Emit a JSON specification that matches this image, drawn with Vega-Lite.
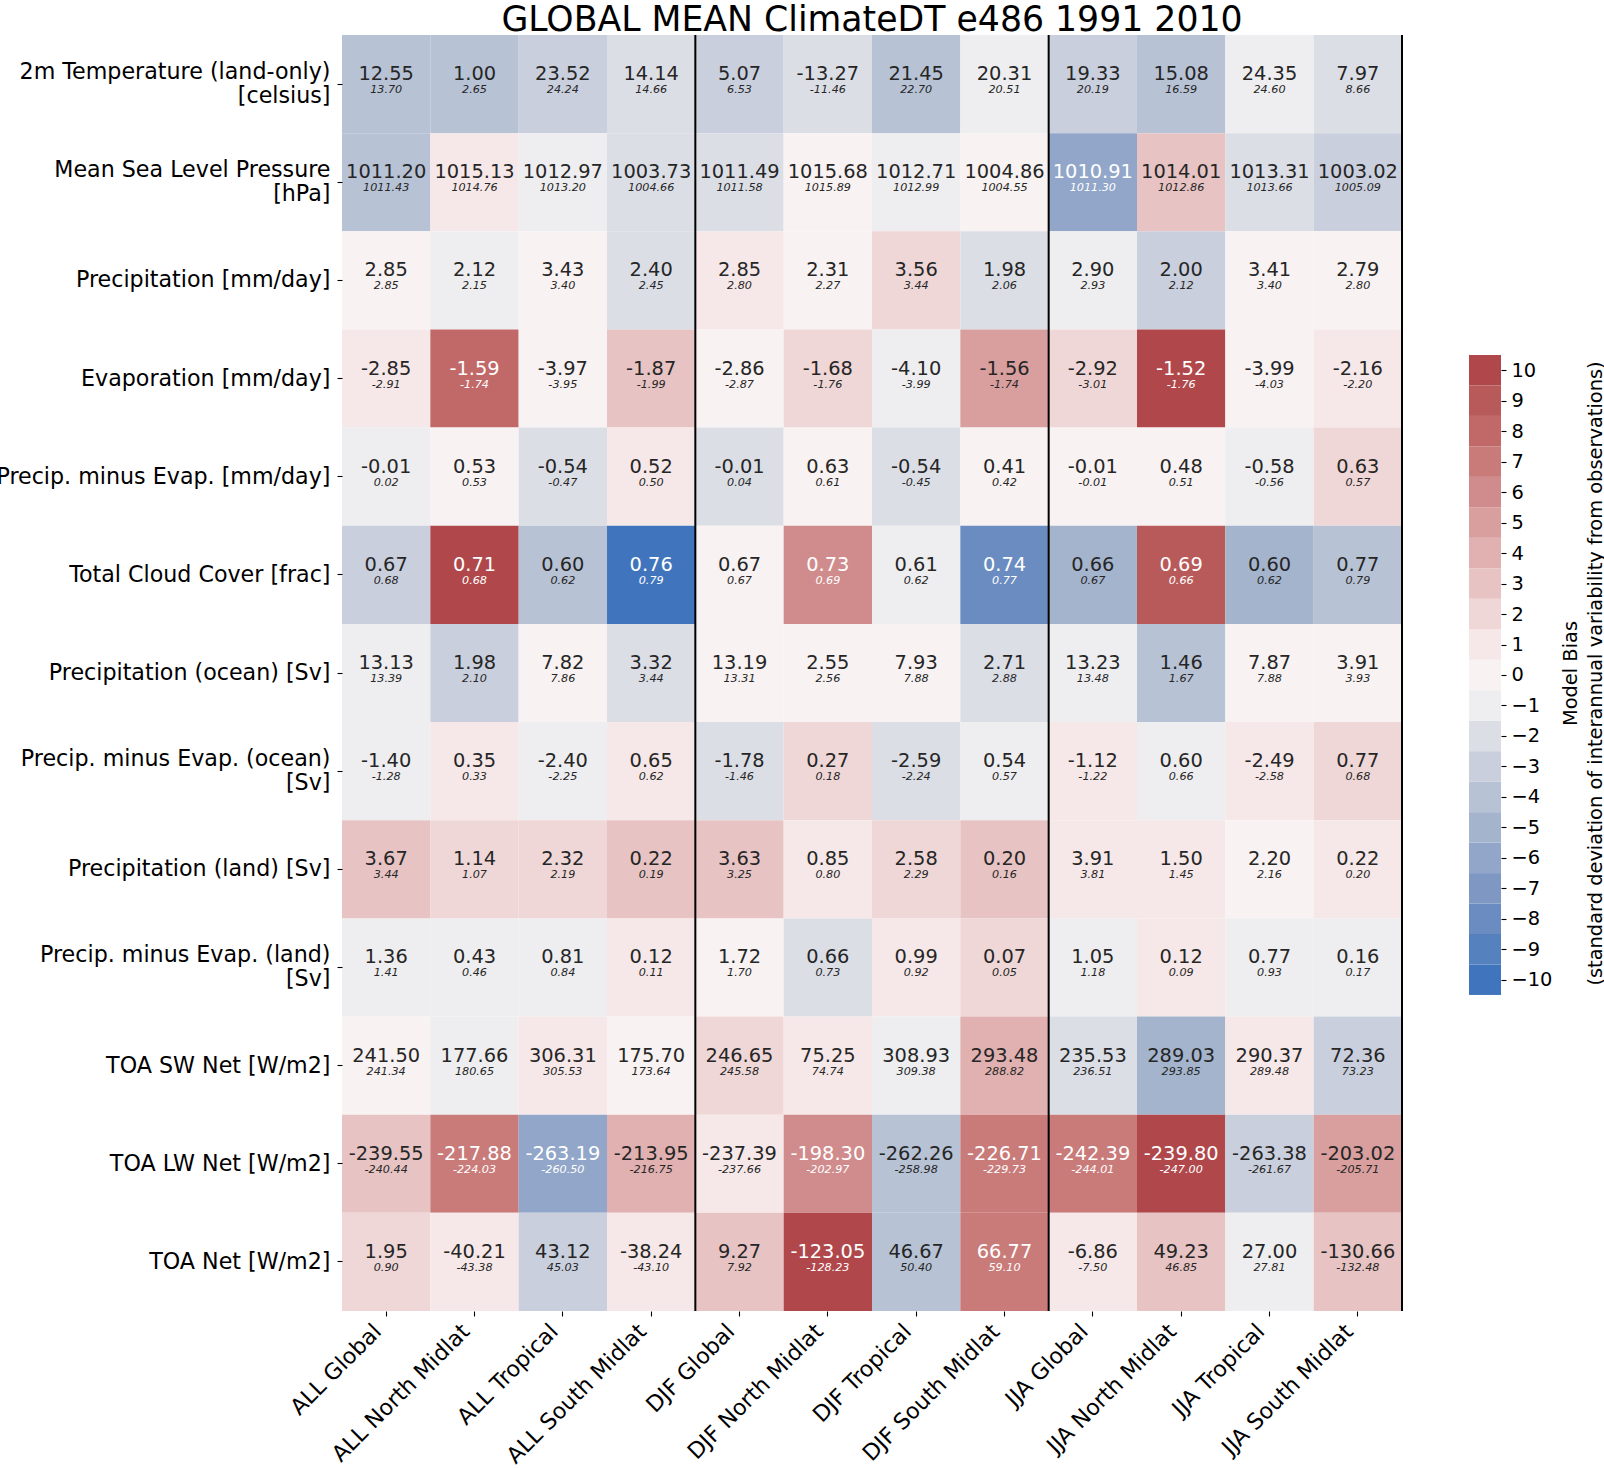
{
  "$schema": "https://vega.github.io/schema/vega-lite/v6.json",
  "autosize": {"type": "none"},
  "padding": {"left": 342, "top": 35, "right": 1262, "bottom": 1433},
  "background": "white",
  "bounds": "flush",
  "spacing": 67,
  "config": {
    "view": {"stroke": null},
    "font": "DejaVu Sans",
    "axis": {"labelFont": "DejaVu Sans", "titleFont": "DejaVu Sans", "labelColor": "black", "tickColor": "black", "titleColor": "black", "domain": false, "grid": false},
    "text": {"font": "DejaVu Sans"},
    "title": {"font": "DejaVu Sans"}
  },
  "datasets": {
    "cells": [
      {"v": "2m Temperature (land-only)|[celsius]", "r": "ALL Global", "m": "12.55", "o": "13.70", "b": -4},
      {"v": "2m Temperature (land-only)|[celsius]", "r": "ALL North Midlat", "m": "1.00", "o": "2.65", "b": -4},
      {"v": "2m Temperature (land-only)|[celsius]", "r": "ALL Tropical", "m": "23.52", "o": "24.24", "b": -3},
      {"v": "2m Temperature (land-only)|[celsius]", "r": "ALL South Midlat", "m": "14.14", "o": "14.66", "b": -2},
      {"v": "2m Temperature (land-only)|[celsius]", "r": "DJF Global", "m": "5.07", "o": "6.53", "b": -3},
      {"v": "2m Temperature (land-only)|[celsius]", "r": "DJF North Midlat", "m": "-13.27", "o": "-11.46", "b": -2},
      {"v": "2m Temperature (land-only)|[celsius]", "r": "DJF Tropical", "m": "21.45", "o": "22.70", "b": -4},
      {"v": "2m Temperature (land-only)|[celsius]", "r": "DJF South Midlat", "m": "20.31", "o": "20.51", "b": -1},
      {"v": "2m Temperature (land-only)|[celsius]", "r": "JJA Global", "m": "19.33", "o": "20.19", "b": -3},
      {"v": "2m Temperature (land-only)|[celsius]", "r": "JJA North Midlat", "m": "15.08", "o": "16.59", "b": -4},
      {"v": "2m Temperature (land-only)|[celsius]", "r": "JJA Tropical", "m": "24.35", "o": "24.60", "b": -1},
      {"v": "2m Temperature (land-only)|[celsius]", "r": "JJA South Midlat", "m": "7.97", "o": "8.66", "b": -2},

      {"v": "Mean Sea Level Pressure|[hPa]", "r": "ALL Global", "m": "1011.20", "o": "1011.43", "b": -4},
      {"v": "Mean Sea Level Pressure|[hPa]", "r": "ALL North Midlat", "m": "1015.13", "o": "1014.76", "b": 1},
      {"v": "Mean Sea Level Pressure|[hPa]", "r": "ALL Tropical", "m": "1012.97", "o": "1013.20", "b": -1},
      {"v": "Mean Sea Level Pressure|[hPa]", "r": "ALL South Midlat", "m": "1003.73", "o": "1004.66", "b": -2},
      {"v": "Mean Sea Level Pressure|[hPa]", "r": "DJF Global", "m": "1011.49", "o": "1011.58", "b": -2},
      {"v": "Mean Sea Level Pressure|[hPa]", "r": "DJF North Midlat", "m": "1015.68", "o": "1015.89", "b": 0},
      {"v": "Mean Sea Level Pressure|[hPa]", "r": "DJF Tropical", "m": "1012.71", "o": "1012.99", "b": -1},
      {"v": "Mean Sea Level Pressure|[hPa]", "r": "DJF South Midlat", "m": "1004.86", "o": "1004.55", "b": 0},
      {"v": "Mean Sea Level Pressure|[hPa]", "r": "JJA Global", "m": "1010.91", "o": "1011.30", "b": -6},
      {"v": "Mean Sea Level Pressure|[hPa]", "r": "JJA North Midlat", "m": "1014.01", "o": "1012.86", "b": 3},
      {"v": "Mean Sea Level Pressure|[hPa]", "r": "JJA Tropical", "m": "1013.31", "o": "1013.66", "b": -2},
      {"v": "Mean Sea Level Pressure|[hPa]", "r": "JJA South Midlat", "m": "1003.02", "o": "1005.09", "b": -3},

      {"v": "Precipitation [mm/day]", "r": "ALL Global", "m": "2.85", "o": "2.85", "b": 0},
      {"v": "Precipitation [mm/day]", "r": "ALL North Midlat", "m": "2.12", "o": "2.15", "b": -1},
      {"v": "Precipitation [mm/day]", "r": "ALL Tropical", "m": "3.43", "o": "3.40", "b": 0},
      {"v": "Precipitation [mm/day]", "r": "ALL South Midlat", "m": "2.40", "o": "2.45", "b": -2},
      {"v": "Precipitation [mm/day]", "r": "DJF Global", "m": "2.85", "o": "2.80", "b": 1},
      {"v": "Precipitation [mm/day]", "r": "DJF North Midlat", "m": "2.31", "o": "2.27", "b": 0},
      {"v": "Precipitation [mm/day]", "r": "DJF Tropical", "m": "3.56", "o": "3.44", "b": 2},
      {"v": "Precipitation [mm/day]", "r": "DJF South Midlat", "m": "1.98", "o": "2.06", "b": -2},
      {"v": "Precipitation [mm/day]", "r": "JJA Global", "m": "2.90", "o": "2.93", "b": -1},
      {"v": "Precipitation [mm/day]", "r": "JJA North Midlat", "m": "2.00", "o": "2.12", "b": -3},
      {"v": "Precipitation [mm/day]", "r": "JJA Tropical", "m": "3.41", "o": "3.40", "b": 0},
      {"v": "Precipitation [mm/day]", "r": "JJA South Midlat", "m": "2.79", "o": "2.80", "b": 0},

      {"v": "Evaporation [mm/day]", "r": "ALL Global", "m": "-2.85", "o": "-2.91", "b": 1},
      {"v": "Evaporation [mm/day]", "r": "ALL North Midlat", "m": "-1.59", "o": "-1.74", "b": 8},
      {"v": "Evaporation [mm/day]", "r": "ALL Tropical", "m": "-3.97", "o": "-3.95", "b": 0},
      {"v": "Evaporation [mm/day]", "r": "ALL South Midlat", "m": "-1.87", "o": "-1.99", "b": 3},
      {"v": "Evaporation [mm/day]", "r": "DJF Global", "m": "-2.86", "o": "-2.87", "b": 0},
      {"v": "Evaporation [mm/day]", "r": "DJF North Midlat", "m": "-1.68", "o": "-1.76", "b": 2},
      {"v": "Evaporation [mm/day]", "r": "DJF Tropical", "m": "-4.10", "o": "-3.99", "b": -1},
      {"v": "Evaporation [mm/day]", "r": "DJF South Midlat", "m": "-1.56", "o": "-1.74", "b": 5},
      {"v": "Evaporation [mm/day]", "r": "JJA Global", "m": "-2.92", "o": "-3.01", "b": 2},
      {"v": "Evaporation [mm/day]", "r": "JJA North Midlat", "m": "-1.52", "o": "-1.76", "b": 10},
      {"v": "Evaporation [mm/day]", "r": "JJA Tropical", "m": "-3.99", "o": "-4.03", "b": 0},
      {"v": "Evaporation [mm/day]", "r": "JJA South Midlat", "m": "-2.16", "o": "-2.20", "b": 1},

      {"v": "Precip. minus Evap. [mm/day]", "r": "ALL Global", "m": "-0.01", "o": "0.02", "b": -1},
      {"v": "Precip. minus Evap. [mm/day]", "r": "ALL North Midlat", "m": "0.53", "o": "0.53", "b": 0},
      {"v": "Precip. minus Evap. [mm/day]", "r": "ALL Tropical", "m": "-0.54", "o": "-0.47", "b": -2},
      {"v": "Precip. minus Evap. [mm/day]", "r": "ALL South Midlat", "m": "0.52", "o": "0.50", "b": 1},
      {"v": "Precip. minus Evap. [mm/day]", "r": "DJF Global", "m": "-0.01", "o": "0.04", "b": -2},
      {"v": "Precip. minus Evap. [mm/day]", "r": "DJF North Midlat", "m": "0.63", "o": "0.61", "b": 0},
      {"v": "Precip. minus Evap. [mm/day]", "r": "DJF Tropical", "m": "-0.54", "o": "-0.45", "b": -2},
      {"v": "Precip. minus Evap. [mm/day]", "r": "DJF South Midlat", "m": "0.41", "o": "0.42", "b": 0},
      {"v": "Precip. minus Evap. [mm/day]", "r": "JJA Global", "m": "-0.01", "o": "-0.01", "b": 0},
      {"v": "Precip. minus Evap. [mm/day]", "r": "JJA North Midlat", "m": "0.48", "o": "0.51", "b": 0},
      {"v": "Precip. minus Evap. [mm/day]", "r": "JJA Tropical", "m": "-0.58", "o": "-0.56", "b": -1},
      {"v": "Precip. minus Evap. [mm/day]", "r": "JJA South Midlat", "m": "0.63", "o": "0.57", "b": 2},

      {"v": "Total Cloud Cover [frac]", "r": "ALL Global", "m": "0.67", "o": "0.68", "b": -3},
      {"v": "Total Cloud Cover [frac]", "r": "ALL North Midlat", "m": "0.71", "o": "0.68", "b": 10},
      {"v": "Total Cloud Cover [frac]", "r": "ALL Tropical", "m": "0.60", "o": "0.62", "b": -4},
      {"v": "Total Cloud Cover [frac]", "r": "ALL South Midlat", "m": "0.76", "o": "0.79", "b": -10},
      {"v": "Total Cloud Cover [frac]", "r": "DJF Global", "m": "0.67", "o": "0.67", "b": 0},
      {"v": "Total Cloud Cover [frac]", "r": "DJF North Midlat", "m": "0.73", "o": "0.69", "b": 6},
      {"v": "Total Cloud Cover [frac]", "r": "DJF Tropical", "m": "0.61", "o": "0.62", "b": -1},
      {"v": "Total Cloud Cover [frac]", "r": "DJF South Midlat", "m": "0.74", "o": "0.77", "b": -8},
      {"v": "Total Cloud Cover [frac]", "r": "JJA Global", "m": "0.66", "o": "0.67", "b": -5},
      {"v": "Total Cloud Cover [frac]", "r": "JJA North Midlat", "m": "0.69", "o": "0.66", "b": 9},
      {"v": "Total Cloud Cover [frac]", "r": "JJA Tropical", "m": "0.60", "o": "0.62", "b": -5},
      {"v": "Total Cloud Cover [frac]", "r": "JJA South Midlat", "m": "0.77", "o": "0.79", "b": -4},

      {"v": "Precipitation (ocean) [Sv]", "r": "ALL Global", "m": "13.13", "o": "13.39", "b": -1},
      {"v": "Precipitation (ocean) [Sv]", "r": "ALL North Midlat", "m": "1.98", "o": "2.10", "b": -3},
      {"v": "Precipitation (ocean) [Sv]", "r": "ALL Tropical", "m": "7.82", "o": "7.86", "b": 0},
      {"v": "Precipitation (ocean) [Sv]", "r": "ALL South Midlat", "m": "3.32", "o": "3.44", "b": -2},
      {"v": "Precipitation (ocean) [Sv]", "r": "DJF Global", "m": "13.19", "o": "13.31", "b": 0},
      {"v": "Precipitation (ocean) [Sv]", "r": "DJF North Midlat", "m": "2.55", "o": "2.56", "b": 0},
      {"v": "Precipitation (ocean) [Sv]", "r": "DJF Tropical", "m": "7.93", "o": "7.88", "b": 0},
      {"v": "Precipitation (ocean) [Sv]", "r": "DJF South Midlat", "m": "2.71", "o": "2.88", "b": -2},
      {"v": "Precipitation (ocean) [Sv]", "r": "JJA Global", "m": "13.23", "o": "13.48", "b": -1},
      {"v": "Precipitation (ocean) [Sv]", "r": "JJA North Midlat", "m": "1.46", "o": "1.67", "b": -4},
      {"v": "Precipitation (ocean) [Sv]", "r": "JJA Tropical", "m": "7.87", "o": "7.88", "b": 0},
      {"v": "Precipitation (ocean) [Sv]", "r": "JJA South Midlat", "m": "3.91", "o": "3.93", "b": 0},

      {"v": "Precip. minus Evap. (ocean)|[Sv]", "r": "ALL Global", "m": "-1.40", "o": "-1.28", "b": -1},
      {"v": "Precip. minus Evap. (ocean)|[Sv]", "r": "ALL North Midlat", "m": "0.35", "o": "0.33", "b": 1},
      {"v": "Precip. minus Evap. (ocean)|[Sv]", "r": "ALL Tropical", "m": "-2.40", "o": "-2.25", "b": -1},
      {"v": "Precip. minus Evap. (ocean)|[Sv]", "r": "ALL South Midlat", "m": "0.65", "o": "0.62", "b": 1},
      {"v": "Precip. minus Evap. (ocean)|[Sv]", "r": "DJF Global", "m": "-1.78", "o": "-1.46", "b": -2},
      {"v": "Precip. minus Evap. (ocean)|[Sv]", "r": "DJF North Midlat", "m": "0.27", "o": "0.18", "b": 2},
      {"v": "Precip. minus Evap. (ocean)|[Sv]", "r": "DJF Tropical", "m": "-2.59", "o": "-2.24", "b": -2},
      {"v": "Precip. minus Evap. (ocean)|[Sv]", "r": "DJF South Midlat", "m": "0.54", "o": "0.57", "b": -1},
      {"v": "Precip. minus Evap. (ocean)|[Sv]", "r": "JJA Global", "m": "-1.12", "o": "-1.22", "b": 1},
      {"v": "Precip. minus Evap. (ocean)|[Sv]", "r": "JJA North Midlat", "m": "0.60", "o": "0.66", "b": -1},
      {"v": "Precip. minus Evap. (ocean)|[Sv]", "r": "JJA Tropical", "m": "-2.49", "o": "-2.58", "b": 1},
      {"v": "Precip. minus Evap. (ocean)|[Sv]", "r": "JJA South Midlat", "m": "0.77", "o": "0.68", "b": 2},

      {"v": "Precipitation (land) [Sv]", "r": "ALL Global", "m": "3.67", "o": "3.44", "b": 3},
      {"v": "Precipitation (land) [Sv]", "r": "ALL North Midlat", "m": "1.14", "o": "1.07", "b": 2},
      {"v": "Precipitation (land) [Sv]", "r": "ALL Tropical", "m": "2.32", "o": "2.19", "b": 2},
      {"v": "Precipitation (land) [Sv]", "r": "ALL South Midlat", "m": "0.22", "o": "0.19", "b": 3},
      {"v": "Precipitation (land) [Sv]", "r": "DJF Global", "m": "3.63", "o": "3.25", "b": 3},
      {"v": "Precipitation (land) [Sv]", "r": "DJF North Midlat", "m": "0.85", "o": "0.80", "b": 1},
      {"v": "Precipitation (land) [Sv]", "r": "DJF Tropical", "m": "2.58", "o": "2.29", "b": 2},
      {"v": "Precipitation (land) [Sv]", "r": "DJF South Midlat", "m": "0.20", "o": "0.16", "b": 3},
      {"v": "Precipitation (land) [Sv]", "r": "JJA Global", "m": "3.91", "o": "3.81", "b": 1},
      {"v": "Precipitation (land) [Sv]", "r": "JJA North Midlat", "m": "1.50", "o": "1.45", "b": 1},
      {"v": "Precipitation (land) [Sv]", "r": "JJA Tropical", "m": "2.20", "o": "2.16", "b": 0},
      {"v": "Precipitation (land) [Sv]", "r": "JJA South Midlat", "m": "0.22", "o": "0.20", "b": 1},

      {"v": "Precip. minus Evap. (land)|[Sv]", "r": "ALL Global", "m": "1.36", "o": "1.41", "b": -1},
      {"v": "Precip. minus Evap. (land)|[Sv]", "r": "ALL North Midlat", "m": "0.43", "o": "0.46", "b": -1},
      {"v": "Precip. minus Evap. (land)|[Sv]", "r": "ALL Tropical", "m": "0.81", "o": "0.84", "b": -1},
      {"v": "Precip. minus Evap. (land)|[Sv]", "r": "ALL South Midlat", "m": "0.12", "o": "0.11", "b": 1},
      {"v": "Precip. minus Evap. (land)|[Sv]", "r": "DJF Global", "m": "1.72", "o": "1.70", "b": 0},
      {"v": "Precip. minus Evap. (land)|[Sv]", "r": "DJF North Midlat", "m": "0.66", "o": "0.73", "b": -2},
      {"v": "Precip. minus Evap. (land)|[Sv]", "r": "DJF Tropical", "m": "0.99", "o": "0.92", "b": 1},
      {"v": "Precip. minus Evap. (land)|[Sv]", "r": "DJF South Midlat", "m": "0.07", "o": "0.05", "b": 2},
      {"v": "Precip. minus Evap. (land)|[Sv]", "r": "JJA Global", "m": "1.05", "o": "1.18", "b": -1},
      {"v": "Precip. minus Evap. (land)|[Sv]", "r": "JJA North Midlat", "m": "0.12", "o": "0.09", "b": 1},
      {"v": "Precip. minus Evap. (land)|[Sv]", "r": "JJA Tropical", "m": "0.77", "o": "0.93", "b": -1},
      {"v": "Precip. minus Evap. (land)|[Sv]", "r": "JJA South Midlat", "m": "0.16", "o": "0.17", "b": -1},

      {"v": "TOA SW Net [W/m2]", "r": "ALL Global", "m": "241.50", "o": "241.34", "b": 0},
      {"v": "TOA SW Net [W/m2]", "r": "ALL North Midlat", "m": "177.66", "o": "180.65", "b": -1},
      {"v": "TOA SW Net [W/m2]", "r": "ALL Tropical", "m": "306.31", "o": "305.53", "b": 1},
      {"v": "TOA SW Net [W/m2]", "r": "ALL South Midlat", "m": "175.70", "o": "173.64", "b": 0},
      {"v": "TOA SW Net [W/m2]", "r": "DJF Global", "m": "246.65", "o": "245.58", "b": 2},
      {"v": "TOA SW Net [W/m2]", "r": "DJF North Midlat", "m": "75.25", "o": "74.74", "b": 1},
      {"v": "TOA SW Net [W/m2]", "r": "DJF Tropical", "m": "308.93", "o": "309.38", "b": -1},
      {"v": "TOA SW Net [W/m2]", "r": "DJF South Midlat", "m": "293.48", "o": "288.82", "b": 4},
      {"v": "TOA SW Net [W/m2]", "r": "JJA Global", "m": "235.53", "o": "236.51", "b": -2},
      {"v": "TOA SW Net [W/m2]", "r": "JJA North Midlat", "m": "289.03", "o": "293.85", "b": -5},
      {"v": "TOA SW Net [W/m2]", "r": "JJA Tropical", "m": "290.37", "o": "289.48", "b": 1},
      {"v": "TOA SW Net [W/m2]", "r": "JJA South Midlat", "m": "72.36", "o": "73.23", "b": -3},

      {"v": "TOA LW Net [W/m2]", "r": "ALL Global", "m": "-239.55", "o": "-240.44", "b": 3},
      {"v": "TOA LW Net [W/m2]", "r": "ALL North Midlat", "m": "-217.88", "o": "-224.03", "b": 7},
      {"v": "TOA LW Net [W/m2]", "r": "ALL Tropical", "m": "-263.19", "o": "-260.50", "b": -6},
      {"v": "TOA LW Net [W/m2]", "r": "ALL South Midlat", "m": "-213.95", "o": "-216.75", "b": 4},
      {"v": "TOA LW Net [W/m2]", "r": "DJF Global", "m": "-237.39", "o": "-237.66", "b": 1},
      {"v": "TOA LW Net [W/m2]", "r": "DJF North Midlat", "m": "-198.30", "o": "-202.97", "b": 6},
      {"v": "TOA LW Net [W/m2]", "r": "DJF Tropical", "m": "-262.26", "o": "-258.98", "b": -4},
      {"v": "TOA LW Net [W/m2]", "r": "DJF South Midlat", "m": "-226.71", "o": "-229.73", "b": 7},
      {"v": "TOA LW Net [W/m2]", "r": "JJA Global", "m": "-242.39", "o": "-244.01", "b": 7},
      {"v": "TOA LW Net [W/m2]", "r": "JJA North Midlat", "m": "-239.80", "o": "-247.00", "b": 10},
      {"v": "TOA LW Net [W/m2]", "r": "JJA Tropical", "m": "-263.38", "o": "-261.67", "b": -3},
      {"v": "TOA LW Net [W/m2]", "r": "JJA South Midlat", "m": "-203.02", "o": "-205.71", "b": 5},

      {"v": "TOA Net [W/m2]", "r": "ALL Global", "m": "1.95", "o": "0.90", "b": 2},
      {"v": "TOA Net [W/m2]", "r": "ALL North Midlat", "m": "-40.21", "o": "-43.38", "b": 1},
      {"v": "TOA Net [W/m2]", "r": "ALL Tropical", "m": "43.12", "o": "45.03", "b": -3},
      {"v": "TOA Net [W/m2]", "r": "ALL South Midlat", "m": "-38.24", "o": "-43.10", "b": 1},
      {"v": "TOA Net [W/m2]", "r": "DJF Global", "m": "9.27", "o": "7.92", "b": 3},
      {"v": "TOA Net [W/m2]", "r": "DJF North Midlat", "m": "-123.05", "o": "-128.23", "b": 10},
      {"v": "TOA Net [W/m2]", "r": "DJF Tropical", "m": "46.67", "o": "50.40", "b": -4},
      {"v": "TOA Net [W/m2]", "r": "DJF South Midlat", "m": "66.77", "o": "59.10", "b": 7},
      {"v": "TOA Net [W/m2]", "r": "JJA Global", "m": "-6.86", "o": "-7.50", "b": 1},
      {"v": "TOA Net [W/m2]", "r": "JJA North Midlat", "m": "49.23", "o": "46.85", "b": 3},
      {"v": "TOA Net [W/m2]", "r": "JJA Tropical", "m": "27.00", "o": "27.81", "b": -1},
      {"v": "TOA Net [W/m2]", "r": "JJA South Midlat", "m": "-130.66", "o": "-132.48", "b": 3}
    ],
    "bar": [
      {"b": -10, "lo": -10.5, "hi": -9.5}, {"b": -9, "lo": -9.5, "hi": -8.5}, {"b": -8, "lo": -8.5, "hi": -7.5},
      {"b": -7, "lo": -7.5, "hi": -6.5}, {"b": -6, "lo": -6.5, "hi": -5.5}, {"b": -5, "lo": -5.5, "hi": -4.5},
      {"b": -4, "lo": -4.5, "hi": -3.5}, {"b": -3, "lo": -3.5, "hi": -2.5}, {"b": -2, "lo": -2.5, "hi": -1.5},
      {"b": -1, "lo": -1.5, "hi": -0.5}, {"b": 0, "lo": -0.5, "hi": 0.5}, {"b": 1, "lo": 0.5, "hi": 1.5},
      {"b": 2, "lo": 1.5, "hi": 2.5}, {"b": 3, "lo": 2.5, "hi": 3.5}, {"b": 4, "lo": 3.5, "hi": 4.5},
      {"b": 5, "lo": 4.5, "hi": 5.5}, {"b": 6, "lo": 5.5, "hi": 6.5}, {"b": 7, "lo": 6.5, "hi": 7.5},
      {"b": 8, "lo": 7.5, "hi": 8.5}, {"b": 9, "lo": 8.5, "hi": 9.5}, {"b": 10, "lo": 9.5, "hi": 10.5}
    ]
  },
  "hconcat": [
    {
      "width": 1060,
      "height": 1276,
      "title": {"text": "GLOBAL MEAN ClimateDT e486 1991 2010", "fontSize": 34.7, "fontWeight": "normal", "color": "black", "anchor": "middle", "frame": "group", "baseline": "alphabetic", "offset": -32},
      "data": {"name": "cells"},
      "layer": [
        {
          "mark": {"type": "rect"},
          "encoding": {
            "x": {"field": "r", "type": "nominal", "sort": null, "title": null,
              "scale": {"domain": ["ALL Global", "ALL North Midlat", "ALL Tropical", "ALL South Midlat", "DJF Global", "DJF North Midlat", "DJF Tropical", "DJF South Midlat", "JJA Global", "JJA North Midlat", "JJA Tropical", "JJA South Midlat"], "paddingInner": 0, "paddingOuter": 0},
              "axis": {"orient": "bottom", "labelAngle": -45, "labelAlign": "right", "labelBaseline": "bottom", "labelFontSize": 22.2, "labelPadding": 20, "tickSize": 5, "tickWidth": 1.1, "labelLimit": 0, "labelOverlap": false}},
            "y": {"field": "v", "type": "nominal", "sort": null, "title": null,
              "scale": {"domain": ["2m Temperature (land-only)|[celsius]", "Mean Sea Level Pressure|[hPa]", "Precipitation [mm/day]", "Evaporation [mm/day]", "Precip. minus Evap. [mm/day]", "Total Cloud Cover [frac]", "Precipitation (ocean) [Sv]", "Precip. minus Evap. (ocean)|[Sv]", "Precipitation (land) [Sv]", "Precip. minus Evap. (land)|[Sv]", "TOA SW Net [W/m2]", "TOA LW Net [W/m2]", "TOA Net [W/m2]"], "paddingInner": 0, "paddingOuter": 0},
              "axis": {"labelFontSize": 22.2, "labelPadding": 7, "tickSize": 5, "tickWidth": 1.1, "labelLimit": 0, "labelOverlap": false, "labelExpr": "split(datum.label, '|')", "labelLineHeight": 24,
                "labelOffset": {"condition": {"test": "indexof(datum.value, '|') >= 0", "value": -12}, "value": 0}}},
            "color": {"field": "b", "type": "ordinal",
              "scale": {"domain": [-10, -9, -8, -7, -6, -5, -4, -3, -2, -1, 0, 1, 2, 3, 4, 5, 6, 7, 8, 9, 10],
                "range": ["#4075bd", "#5581bf", "#6a8cc1", "#7e98c3", "#91a6c8", "#a4b4cd", "#b7c2d5", "#cacfdd", "#dcdee6", "#eeeef0", "#f8f2f2", "#f6e8e8", "#efd7d7", "#e7c4c3", "#e0b1b0", "#d89f9e", "#d08c8c", "#c97b7a", "#c16968", "#b95a5a", "#b0484b"]},
              "legend": null}
          }
        },
        {
          "mark": {"type": "text", "fontSize": 19.4, "baseline": "alphabetic", "dy": -4},
          "encoding": {
            "x": {"field": "r", "type": "nominal", "sort": null},
            "y": {"field": "v", "type": "nominal", "sort": null},
            "text": {"field": "m", "type": "nominal"},
            "color": {"condition": {"test": "abs(datum.b) >= 6", "value": "white"}, "value": "#262626"}
          }
        },
        {
          "mark": {"type": "text", "fontSize": 11.2, "fontStyle": "italic", "baseline": "alphabetic", "dy": 9},
          "encoding": {
            "x": {"field": "r", "type": "nominal", "sort": null},
            "y": {"field": "v", "type": "nominal", "sort": null},
            "text": {"field": "o", "type": "nominal"},
            "color": {"condition": {"test": "abs(datum.b) >= 6", "value": "white"}, "value": "#262626"}
          }
        },
        {
          "data": {"values": [{"r": "ALL South Midlat"}, {"r": "DJF South Midlat"}, {"r": "JJA South Midlat"}]},
          "mark": {"type": "rule", "color": "black", "strokeWidth": 2},
          "encoding": {
            "x": {"field": "r", "type": "nominal", "sort": null, "bandPosition": 1}
          }
        }
      ]
    },
    {
      "width": 32,
      "height": 1276,
      "data": {"name": "bar"},
      "mark": {"type": "rect"},
      "encoding": {
        "y": {"field": "lo", "type": "quantitative", "scale": {"domain": [-20.87, 21], "nice": false, "zero": false},
          "axis": {"orient": "right", "values": [-10, -9, -8, -7, -6, -5, -4, -3, -2, -1, 0, 1, 2, 3, 4, 5, 6, 7, 8, 9, 10], "format": "d", "labelExpr": "replace(datum.label, '-', '−')", "labelFontSize": 19.4, "labelPadding": 5, "tickSize": 5, "tickWidth": 1.1, "domain": false, "grid": false, "labelOverlap": false,
            "title": ["Model Bias", "(standard deviation of interannual variability from observations)"], "titleFontSize": 19.4, "titleFontWeight": "normal", "titleAngle": 270, "titleLineHeight": 25, "titleBaseline": "middle", "titleAlign": "center", "titleX": 69, "titleY": 638}},
        "y2": {"field": "hi"},
        "color": {"field": "b", "type": "ordinal", "legend": null,
          "scale": {"domain": [-10, -9, -8, -7, -6, -5, -4, -3, -2, -1, 0, 1, 2, 3, 4, 5, 6, 7, 8, 9, 10],
            "range": ["#4075bd", "#5581bf", "#6a8cc1", "#7e98c3", "#91a6c8", "#a4b4cd", "#b7c2d5", "#cacfdd", "#dcdee6", "#eeeef0", "#f8f2f2", "#f6e8e8", "#efd7d7", "#e7c4c3", "#e0b1b0", "#d89f9e", "#d08c8c", "#c97b7a", "#c16968", "#b95a5a", "#b0484b"]}}
      }
    }
  ]
}
